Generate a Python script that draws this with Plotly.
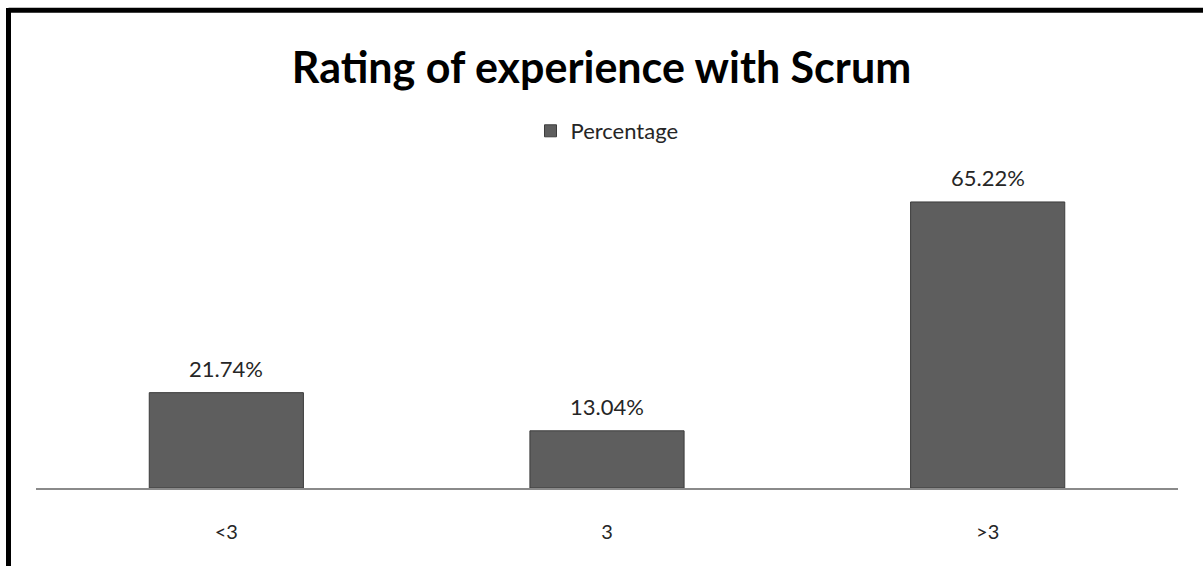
import plotly.graph_objects as go

categories = ["<3", "3", ">3"]
percentages = [21.74, 13.04, 65.22]
labels = ["21.74%", "13.04%", "65.22%"]
series_name = "Percentage"
title_text = "Rating of experience with Scrum"

W, H = 1203, 566
L, R = 36, 1178
B, T = 488, 181

def px_x(p):
    return (p - L) / (R - L)

def px_y(p):
    return (B - p) / (B - T)

fig = go.Figure()
fig.add_trace(go.Bar(
    x=categories, y=percentages, name=series_name,
    marker=dict(color="#5e5e5e", line=dict(color="#3c3c3c", width=1)),
    cliponaxis=False, showlegend=True,
))

# category axis: annotations positioned by category index
for i, (v, t) in enumerate(zip(percentages, labels)):
    fig.add_annotation(x=i, y=v, xref="x", yref="y", text=t, showarrow=False,
                       yanchor="middle", yshift=24,
                       font=dict(family="Lato", size=22, color="#262626"))

fig.update_layout(
    width=W, height=H,
    margin=dict(l=L, r=W - R, t=T, b=H - B, autoexpand=False),
    paper_bgcolor="white", plot_bgcolor="white",
    bargap=0.595,
    title=dict(text="<b>" + title_text + "</b>", x=0.5, xanchor="center",
               y=1 - 68 / H, yanchor="middle", yref="container",
               font=dict(family="Lato", size=43, color="#000000")),
    legend=dict(orientation="h", x=0.5, xanchor="center", y=px_y(131), yanchor="middle",
                font=dict(family="Lato", size=22, color="#262626"),
                itemwidth=30, bgcolor="rgba(0,0,0,0)"),
    xaxis=dict(type="category", categoryorder="array", categoryarray=categories,
               range=[-0.5, len(categories) - 0.5],
               showline=True, linecolor="#8a8a8a", linewidth=2, ticks="",
               tickfont=dict(family="Lato", size=20, color="#262626"),
               ticklabelstandoff=25, showgrid=False, zeroline=False, fixedrange=True),
    yaxis=dict(range=[0, 70], visible=False, showgrid=False, zeroline=False),
    showlegend=True,
    shapes=[
        dict(type="line", xref="paper", yref="paper", x0=px_x(8.5), x1=px_x(1220),
             y0=px_y(10.3), y1=px_y(10.3), line=dict(color="black", width=5)),
        dict(type="line", xref="paper", yref="paper", x0=px_x(8.5), x1=px_x(8.5),
             y0=px_y(8), y1=px_y(600), line=dict(color="black", width=5)),
    ],
)

fig.write_html("out.html")
